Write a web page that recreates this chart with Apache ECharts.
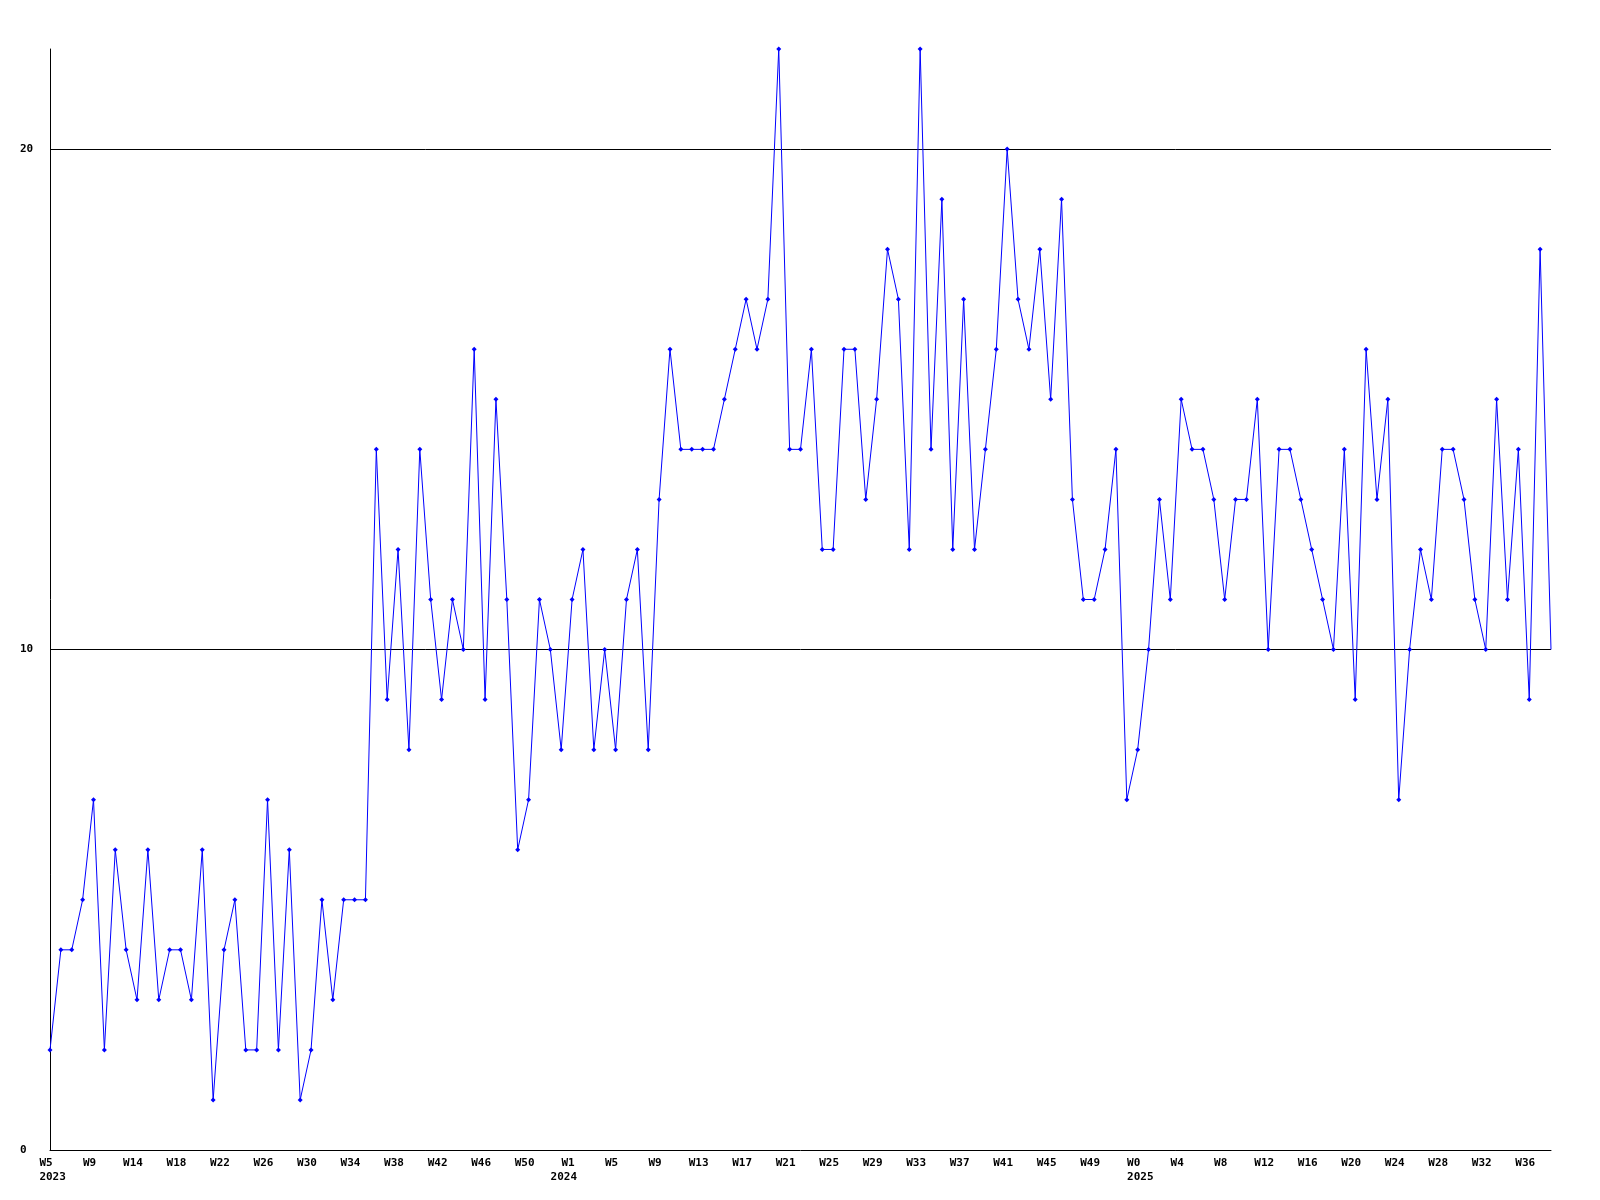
<!DOCTYPE html>
<html>
<head>
<meta charset="utf-8">
<script src="https://cdn.jsdelivr.net/npm/echarts@6/dist/echarts.min.js"></script>
<style>
html,body{margin:0;padding:0;background:#fff;}
#chart{width:1600px;height:1200px;}
</style>
</head>
<body>
<div id="chart"></div>
<script>
// Week categories per year (week labels shown every 4th point)
const weeks2023 = ['W5','W6','W7','W8','W9','W10','W11','W13','W14','W15','W16','W17','W18','W19','W20','W21','W22','W23','W24','W25','W26','W27','W28','W29','W30','W31','W32','W33','W34','W35','W36','W37','W38','W39','W40','W41','W42','W43','W44','W45','W46','W47','W48','W49','W50','W51','W52'];
const weeks2024 = ['W0','W1','W2','W3','W4','W5','W6','W7','W8','W9','W10','W11','W12','W13','W14','W15','W16','W17','W18','W19','W20','W21','W22','W23','W24','W25','W26','W27','W28','W29','W30','W31','W32','W33','W34','W35','W36','W37','W38','W39','W40','W41','W42','W43','W44','W45','W46','W47','W48','W49','W50','W51','W52'];
const weeks2025 = ['W0','W1','W2','W3','W4','W5','W6','W7','W8','W9','W10','W11','W12','W13','W14','W15','W16','W17','W18','W19','W20','W21','W22','W23','W24','W25','W26','W27','W28','W29','W30','W31','W32','W33','W34','W35','W36','W37','W38'];
const years = ['2023','2024','2025'];

// Values
const values = [
  2,4,4,5,7,2,6,4,3,6,
  3,4,4,3,6,1,4,5,2,2,
  7,2,6,1,2,5,3,5,5,5,
  14,9,12,8,14,11,9,11,10,16,
  9,15,11,6,7,11,10,8,11,12,
  8,10,8,11,12,8,13,16,14,14,
  14,14,15,16,17,16,17,22,14,14,
  16,12,12,16,16,13,15,18,17,12,
  22,14,19,12,17,12,14,16,20,17,
  16,18,15,19,13,11,11,12,14,7,
  8,10,13,11,15,14,14,13,11,13,
  13,15,10,14,14,13,12,11,10,14,
  9,16,13,15,7,10,12,11,14,14,
  13,11,10,15,11,14,9,18,10
];

const yTicks = { min: 0, max: 22, interval: 10 };

const categories = []
  .concat(weeks2023.map(w => years[0] + '-' + w))
  .concat(weeks2024.map(w => years[1] + '-' + w))
  .concat(weeks2025.map(w => years[2] + '-' + w));

function isYearStart(index) {
  if (index === 0) return true;
  return categories[index - 1].split('-')[0] !== categories[index].split('-')[0];
}

const FONT = 'DejaVu Sans Mono';
const labelBase = {
  color: '#000',
  fontFamily: FONT,
  fontWeight: 'bold',
  fontSize: 11,
  lineHeight: 14,
  margin: 6,
  padding: [0, 8, 0, 0]
};
const chart = echarts.init(document.getElementById('chart'), null, {renderer: 'canvas'});
const lastIdx = values.length - 1;

chart.setOption({
  backgroundColor: '#ffffff',
  animation: false,
  grid: { left: 50, right: 49, top: 49, bottom: 50 },
  xAxis: [{
    type: 'category',
    data: categories,
    boundaryGap: false,
    axisLine: { show: true, lineStyle: { color: '#000', width: 1 } },
    axisTick: { show: false },
    splitLine: { show: false },
    axisLabel: Object.assign({}, labelBase, {
      interval: 3,
      formatter: function (value) { return value.split('-')[1]; }
    })
  }, {
    type: 'category',
    data: categories,
    position: 'bottom',
    boundaryGap: false,
    axisLine: { show: false },
    axisTick: { show: false },
    splitLine: { show: false },
    axisLabel: Object.assign({}, labelBase, {
      interval: function (index) { return isYearStart(index); },
      formatter: function (value) { return '\n  ' + value.split('-')[0]; }
    })
  }],
  yAxis: {
    type: 'value',
    min: yTicks.min,
    max: yTicks.max,
    interval: yTicks.interval,
    axisLine: { show: true, lineStyle: { color: '#000', width: 1 } },
    axisTick: { show: false },
    splitLine: { show: true, showMinLine: false, showMaxLine: false, lineStyle: { color: '#000', width: 1 } },
    axisLabel: {
      showMaxLabel: false,
      align: 'left',
      margin: 30,
      padding: [4, 0, 0, 0],
      color: '#000',
      fontFamily: FONT,
      fontWeight: 'bold',
      fontSize: 11
    }
  },
  series: [{
    type: 'line',
    xAxisIndex: 0,
    data: values,
    showAllSymbol: true,
    symbol: function (val, params) { return params.dataIndex === lastIdx ? 'none' : 'diamond'; },
    symbolSize: 5,
    lineStyle: { color: '#0000ff', width: 1 },
    itemStyle: { color: '#0000ff', borderWidth: 0 },
    emphasis: { disabled: true }
  }]
});
</script>
</body>
</html>
